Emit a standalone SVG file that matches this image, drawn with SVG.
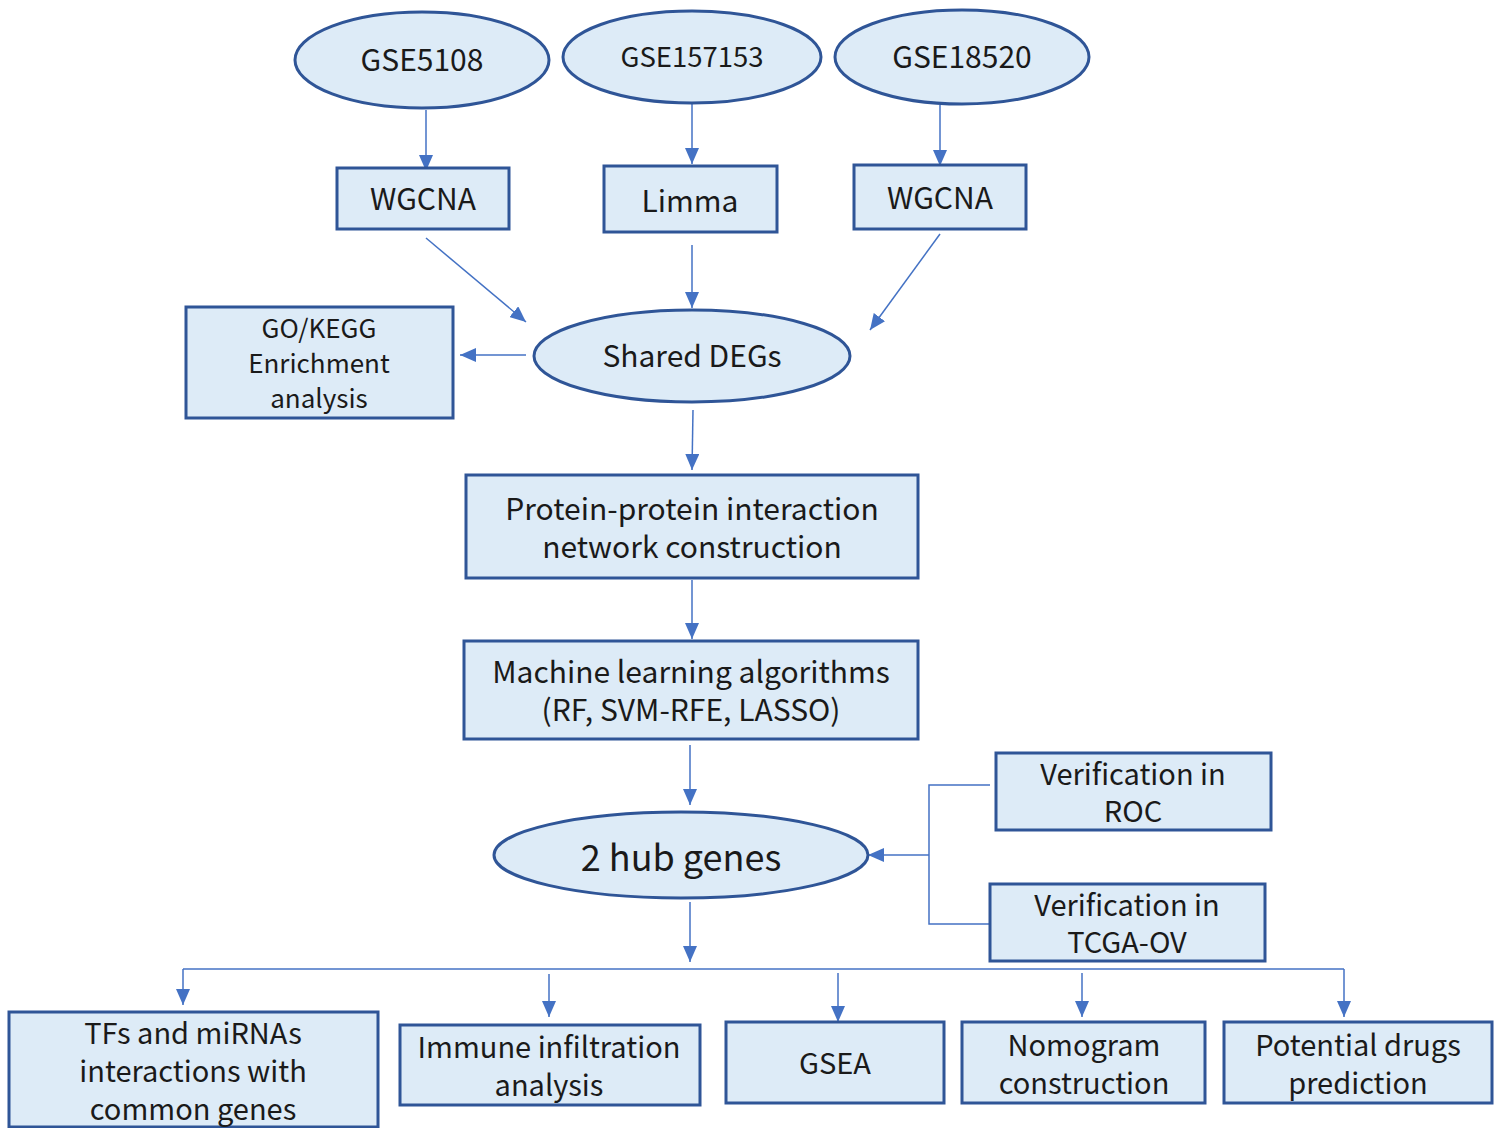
<svg xmlns="http://www.w3.org/2000/svg" width="1504" height="1128" viewBox="0 0 1504 1128">
<defs>
<marker id="ah" markerUnits="userSpaceOnUse" markerWidth="16" markerHeight="14" viewBox="0 0 16 14" refX="16" refY="7" orient="auto">
<path d="M0,0 L16,7 L0,14 Z" fill="#4472C4"/>
</marker>
<style>
.n{fill:#DDEBF7;stroke:#2F5597;stroke-width:3}
.t{font-family:"Noto Sans CJK SC","Noto Sans",sans-serif;font-size:29px;fill:#1a1a1a;text-anchor:middle;dominant-baseline:central}
.b{font-size:30px}
.c{fill:none;stroke:#4472C4;stroke-width:1.5}
.a{marker-end:url(#ah)}
</style>
</defs>
<rect width="1504" height="1128" fill="#ffffff"/>
<g id="connectors">
<line class="c a" x1="426" y1="110" x2="426" y2="171"/>
<line class="c a" x1="692" y1="103" x2="692" y2="164"/>
<line class="c a" x1="940" y1="105" x2="940" y2="166"/>
<line class="c a" x1="426" y1="238" x2="526" y2="322"/>
<line class="c a" x1="692" y1="245" x2="692" y2="308"/>
<line class="c a" x1="940" y1="234" x2="870" y2="330"/>
<line class="c a" x1="526" y1="355" x2="460" y2="355"/>
<line class="c a" x1="693" y1="410" x2="692" y2="470"/>
<line class="c a" x1="692" y1="580" x2="692" y2="639"/>
<line class="c a" x1="690" y1="745" x2="690" y2="805"/>
<polyline class="c" points="990,785 929,785 929,924 990,924"/>
<line class="c a" x1="929" y1="855" x2="868" y2="855"/>
<line class="c a" x1="690" y1="902" x2="690" y2="962"/>
<line class="c" x1="183" y1="969" x2="1344" y2="969"/>
<line class="c a" x1="183" y1="969" x2="183" y2="1005"/>
<line class="c a" x1="549" y1="974" x2="549" y2="1017"/>
<line class="c a" x1="838" y1="973" x2="838" y2="1022"/>
<line class="c a" x1="1082" y1="973" x2="1082" y2="1017"/>
<line class="c a" x1="1344" y1="969" x2="1344" y2="1017"/>
</g>
<g id="gse5108"><ellipse class="n" cx="422" cy="60" rx="127" ry="48"/><text class="t b" x="422" y="58">GSE5108</text></g>
<g id="gse157153"><ellipse class="n" cx="692" cy="57" rx="129" ry="46"/><text class="t" style="font-size:27.5px" x="692" y="55">GSE157153</text></g>
<g id="gse18520"><ellipse class="n" cx="962" cy="57" rx="127" ry="47"/><text class="t b" x="962" y="55">GSE18520</text></g>
<g id="wgcna1"><rect class="n" x="337" y="168" width="172" height="61"/><text class="t b" x="423" y="197">WGCNA</text></g>
<g id="limma"><rect class="n" x="604" y="166" width="173" height="66"/><text class="t b" x="690" y="199">Limma</text></g>
<g id="wgcna2"><rect class="n" x="854" y="165" width="172" height="64"/><text class="t b" x="940" y="196">WGCNA</text></g>
<g id="gokegg"><rect class="n" x="186" y="307" width="267" height="111"/><text class="t" style="font-size:26px" x="319" y="326">GO/KEGG</text><text class="t" style="font-size:26px" x="319" y="361">Enrichment</text><text class="t" style="font-size:26px" x="319" y="396">analysis</text></g>
<g id="shared"><ellipse class="n" cx="692" cy="356" rx="158" ry="46"/><text class="t b" x="692" y="354">Shared DEGs</text></g>
<g id="ppi"><rect class="n" x="466" y="475" width="452" height="103"/><text class="t b" x="692" y="507">Protein-protein interaction</text><text class="t b" x="692" y="545">network construction</text></g>
<g id="ml"><rect class="n" x="464" y="641" width="454" height="98"/><text class="t b" x="691" y="670">Machine learning algorithms</text><text class="t b" x="691" y="708">(RF, SVM-RFE, LASSO)</text></g>
<g id="hub"><ellipse class="n" cx="681" cy="855" rx="187" ry="43"/><text class="t" style="font-size:36px" x="681" y="855">2 hub genes</text></g>
<g id="roc"><rect class="n" x="996" y="753" width="275" height="77"/><text class="t" x="1133" y="772">Verification in</text><text class="t" x="1133" y="809">ROC</text></g>
<g id="tcga"><rect class="n" x="990" y="884" width="275" height="77"/><text class="t" x="1127" y="903">Verification in</text><text class="t" x="1127" y="940">TCGA-OV</text></g>
<g id="tfs"><rect class="n" x="9" y="1012" width="369" height="115"/><text class="t" x="193" y="1031">TFs and miRNAs</text><text class="t" x="193" y="1069">interactions with</text><text class="t" x="193" y="1107">common genes</text></g>
<g id="immune"><rect class="n" x="400" y="1025" width="300" height="80"/><text class="t" x="549" y="1045">Immune infiltration</text><text class="t" x="549" y="1083">analysis</text></g>
<g id="gsea"><rect class="n" x="726" y="1022" width="218" height="81"/><text class="t" x="835" y="1061">GSEA</text></g>
<g id="nomogram"><rect class="n" x="962" y="1022" width="243" height="81"/><text class="t" x="1084" y="1043">Nomogram</text><text class="t" x="1084" y="1081">construction</text></g>
<g id="drugs"><rect class="n" x="1224" y="1022" width="268" height="81"/><text class="t" x="1358" y="1043">Potential drugs</text><text class="t" x="1358" y="1081">prediction</text></g>
</svg>
